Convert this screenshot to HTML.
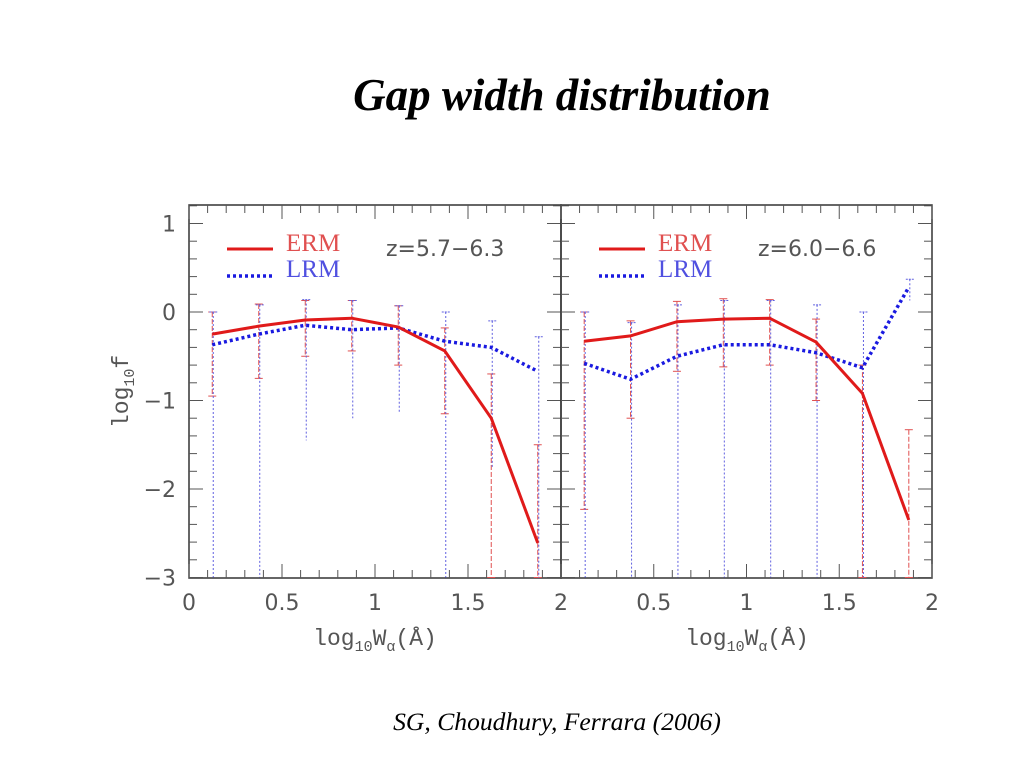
<!DOCTYPE html>
<html><head><meta charset="utf-8"><style>
body{margin:0;width:1024px;height:768px;background:#fff;overflow:hidden;}
svg{position:absolute;left:0;top:0;}
</style></head><body>
<svg id="chart" width="1024" height="768" font-family="Liberation Serif, serif">
<text x="562" y="110" text-anchor="middle" font-size="45" font-weight="bold" font-style="italic">Gap width distribution</text>
<text x="557" y="730" text-anchor="middle" font-size="25.6" font-style="italic">SG, Choudhury, Ferrara (2006)</text>
<g id="plots"></g>
</svg>
<script>
const xCenters=[0.125,0.375,0.625,0.875,1.125,1.375,1.625,1.875];
const ermLeft=[-0.25,-0.16,-0.09,-0.07,-0.17,-0.44,-1.2,-2.61];
const lrmLeft=[-0.37,-0.25,-0.15,-0.2,-0.18,-0.33,-0.4,-0.67];
const ermLeftHi=[0,0.09,0.13,0.13,0.07,-0.18,-0.7,-1.5];
const ermLeftLo=[-0.95,-0.75,-0.5,-0.44,-0.6,-1.15,-3,-3];
const lrmLeftHi=[0,0.08,0.14,0.13,0.07,0,-0.1,-0.28];
const lrmLeftLo=[-3,-3,-1.45,-1.2,-1.15,-3,-1.77,-3];
const ermRight=[-0.33,-0.27,-0.11,-0.08,-0.07,-0.34,-0.92,-2.35];
const lrmRight=[-0.58,-0.76,-0.5,-0.37,-0.37,-0.46,-0.63,0.28];
const ermRightHi=[0,-0.1,0.12,0.15,0.14,-0.08,-0.6,-1.33];
const ermRightLo=[-2.23,-1.2,-0.67,-0.62,-0.6,-1,-3,-3];
const lrmRightHi=[0,-0.12,0.08,0.13,0.13,0.08,0,0.37];
const lrmRightLo=[-3,-3,-3,-3,-3,-3,-3,0.13];
const yTicks=[1,0,-1,-2,-3];
const yTickLabels=["1","0","\u22121","\u22122","\u22123"];
const xTicks=[0,0.5,1,1.5,2];
const xTickLabels=["0","0.5","1","1.5","2"];
const panelTitles=["z=5.7\u22126.3","z=6.0\u22126.6"];

const NS="http://www.w3.org/2000/svg";
const g=document.getElementById('plots');
function el(t,a,p){const e=document.createElementNS(NS,t);for(const k in a)e.setAttribute(k,a[k]);(p||g).appendChild(e);return e;}
const yTop=205,yBot=578,yZero=312,yUnit=88.5;
function ys(v){return yZero-v*yUnit;}
const panels=[{x0:189,w:372,erm:ermLeft,lrm:lrmLeft,eh:ermLeftHi,el:ermLeftLo,lh:lrmLeftHi,ll:lrmLeftLo},
{x0:561,w:371,erm:ermRight,lrm:lrmRight,eh:ermRightHi,el:ermRightLo,lh:lrmRightHi,ll:lrmRightLo}];
panels.forEach((p,pi)=>{
 const xs=v=>p.x0+v*p.w/2;
 const frame=el('rect',{x:p.x0,y:yTop,width:p.w,height:yBot-yTop,fill:'none',stroke:'#333','stroke-width':1.5});
 
 
 for(let i=0;i<=20;i++){const x=xs(i*0.1),L=i%5==0?14:8;
  el('line',{x1:x,x2:x,y1:yTop,y2:yTop+L,stroke:'#555','stroke-width':1});
  el('line',{x1:x,x2:x,y1:yBot,y2:yBot-L,stroke:'#555','stroke-width':1});}
 for(let i=0;i<=21;i++){const v=1.2-i*0.2;const y=ys(v);if(y<yTop||y>yBot)continue;const L=Math.abs(v-Math.round(v))<0.01?14:8;
  el('line',{x1:p.x0,x2:p.x0+L,y1:y,y2:y,stroke:'#555','stroke-width':1});
  el('line',{x1:p.x0+p.w,x2:p.x0+p.w-L,y1:y,y2:y,stroke:'#555','stroke-width':1});}
 xTicks.forEach((v,i)=>{if(pi==1&&i==0)return;const t=el('text',{x:xs(v),y:610,'text-anchor':'middle','font-size':22,fill:'#555','font-family':'DejaVu Sans, sans-serif'});t.textContent=xTickLabels[i];
  });
 const xl=el('text',{x:p.x0+186,y:645,'text-anchor':'middle','font-size':23,fill:'#555','font-family':'Liberation Mono, monospace'});
 xl.innerHTML='log<tspan font-size="15" dy="6">10</tspan><tspan dy="-6">W</tspan><tspan font-size="15" dy="6">\u03b1</tspan><tspan dy="-6">(\u00c5)</tspan>';
 
 xCenters.forEach((c,i)=>{
  const x=xs(c);
  el('line',{x1:x,x2:x,y1:ys(p.eh[i]),y2:ys(p.el[i]),stroke:'#e05050','stroke-width':1,'stroke-dasharray':'5,2'});
  el('line',{x1:x-4,x2:x+4,y1:ys(p.eh[i]),y2:ys(p.eh[i]),stroke:'#e05050','stroke-width':1});
  el('line',{x1:x-4,x2:x+4,y1:ys(p.el[i]),y2:ys(p.el[i]),stroke:'#e05050','stroke-width':1});
  el('line',{x1:x+1,x2:x+1,y1:ys(p.lh[i]),y2:ys(p.ll[i]),stroke:'#6060e0','stroke-width':1,'stroke-dasharray':'2,2'});
  el('line',{x1:x-3,x2:x+5,y1:ys(p.lh[i]),y2:ys(p.lh[i]),stroke:'#6060e0','stroke-width':1,'stroke-dasharray':'2,1'});
 });
 const ptsE=xCenters.map((c,i)=>xs(c)+','+ys(p.erm[i])).join(' ');
 const ptsL=xCenters.map((c,i)=>xs(c)+','+ys(p.lrm[i])).join(' ');
 const le=el('polyline',{points:ptsL,fill:'none',stroke:'#1a1ae0','stroke-width':3.5,'stroke-dasharray':'3,3'});
 
 const ee=el('polyline',{points:ptsE,fill:'none',stroke:'#e01a1a','stroke-width':3});
 
 el('line',{x1:p.x0+38,x2:p.x0+84,y1:249,y2:249,stroke:'#e01a1a','stroke-width':3});
 el('line',{x1:p.x0+38,x2:p.x0+84,y1:276,y2:276,stroke:'#1a1ae0','stroke-width':3.5,'stroke-dasharray':'3,3'});
 const t1=el('text',{x:p.x0+97,y:251,'font-size':25,fill:'#e05050'});t1.textContent='ERM';
 
 const t2=el('text',{x:p.x0+97,y:277,'font-size':25,fill:'#5050e0'});t2.textContent='LRM';
 
 const pt=el('text',{x:p.x0+197,y:256,'font-size':22,fill:'#555','font-family':'DejaVu Sans, sans-serif'});pt.textContent=panelTitles[pi];
 
});
yTicks.forEach((v,i)=>{const t=el('text',{x:176,y:ys(v)+8,'text-anchor':'end','font-size':22,fill:'#555','font-family':'DejaVu Sans, sans-serif'});t.textContent=yTickLabels[i];
 });
const yl=el('text',{x:0,y:0,'font-size':23,fill:'#555','font-family':'Liberation Mono, monospace',transform:'translate(128,428) rotate(-90)'});
yl.innerHTML='log<tspan font-size="15" dy="6">10</tspan><tspan dy="-6">f</tspan>';

</script>
</body></html>
